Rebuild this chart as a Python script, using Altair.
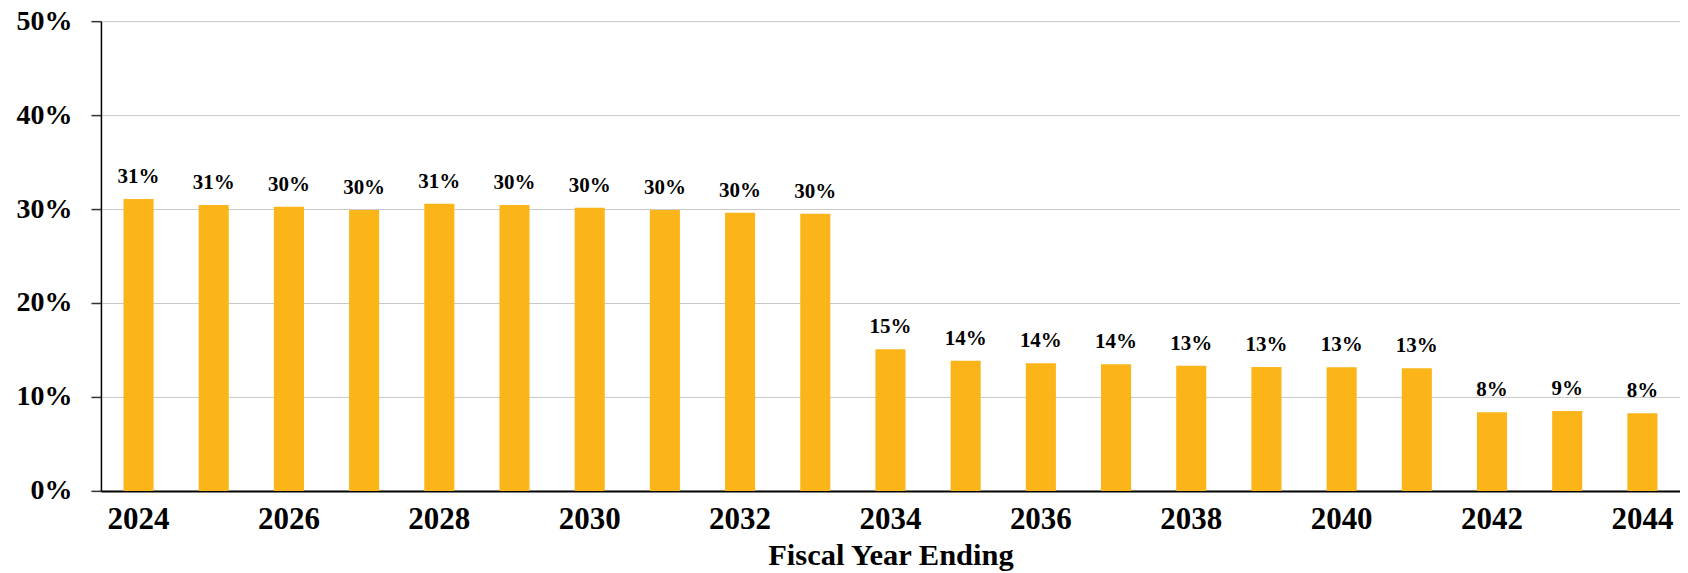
import altair as alt
import pandas as pd

years = list(range(2024, 2045))
values = [31.06, 30.43, 30.24, 29.89, 30.56, 30.43, 30.14, 29.89, 29.61, 29.50,
          15.07, 13.86, 13.59, 13.48, 13.33, 13.19, 13.16, 13.05, 8.37, 8.51, 8.27]
labels = ["31%", "31%", "30%", "30%", "31%", "30%", "30%", "30%", "30%", "30%",
          "15%", "14%", "14%", "14%", "13%", "13%", "13%", "13%", "8%", "9%", "8%"]
tick_years = [2024, 2026, 2028, 2030, 2032, 2034, 2036, 2038, 2040, 2042, 2044]
y_ticks = [0, 0.1, 0.2, 0.3, 0.4, 0.5]

df = pd.DataFrame({"year": years, "value": [v / 100 for v in values], "label": labels})

FONT = "Liberation Serif, Times New Roman, serif"

x = alt.X(
    "year:O",
    scale=alt.Scale(paddingInner=0.6, paddingOuter=0.3),
    axis=alt.Axis(
        values=tick_years,
        title="Fiscal Year Ending",
        labelAngle=0,
        ticks=False,
        labelFont=FONT,
        labelFontWeight="bold",
        labelFontSize=31,
        labelColor="black",
        labelPadding=14,
        domainColor="black",
        domainWidth=2,
        titleFont=FONT,
        titleFontWeight="bold",
        titleFontSize=30.5,
        titleColor="black",
        titlePadding=6,
        grid=False,
    ),
)

y = alt.Y(
    "value:Q",
    scale=alt.Scale(domain=[0, 0.5], nice=False),
    axis=alt.Axis(
        values=y_ticks,
        format=".0%",
        title=None,
        labelFont=FONT,
        labelFontWeight="bold",
        labelFontSize=28,
        labelColor="black",
        labelPadding=19,
        tickSize=10,
        tickColor="#333333",
        tickWidth=1.5,
        domainColor="black",
        domainWidth=1.5,
        grid=True,
        gridColor="#C8C8C8",
        gridWidth=1,
    ),
)

bars = alt.Chart(df).mark_bar(color="#FBB519").encode(x=x, y=y)

text = alt.Chart(df).mark_text(
    dy=-16,
    baseline="alphabetic",
    font=FONT,
    fontWeight="bold",
    fontSize=21,
    color="black",
).encode(x=x, y=y, text="label:N")

chart = (
    alt.layer(bars, text)
    .properties(
        width=1580,
        height=470,
        padding={"left": 93, "top": 13, "right": 0, "bottom": 82},
        autosize=alt.AutoSizeParams(type="none"),
    )
    .configure_view(stroke=None)
)

chart.save("out.html", embed_options={"renderer": "svg", "actions": False})
